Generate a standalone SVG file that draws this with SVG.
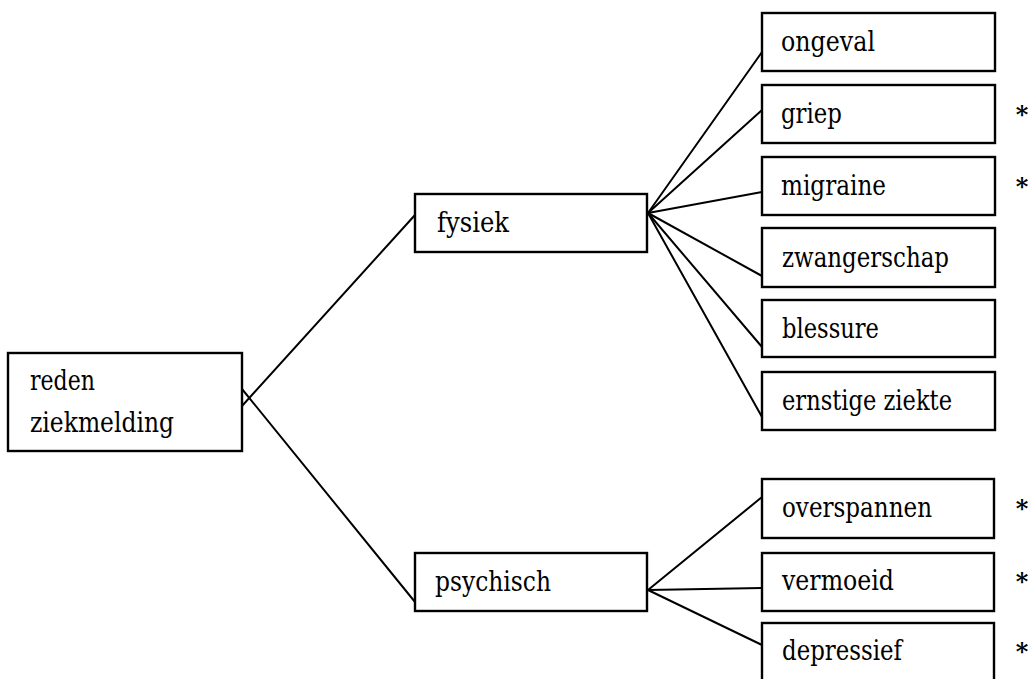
<svg xmlns="http://www.w3.org/2000/svg" width="1031" height="679" viewBox="0 0 1031 679">
  <style>
    .box { fill: #fff; stroke: #000; stroke-width: 2.4; }
    text { font-family: 'DejaVu Serif', 'Liberation Serif', serif; font-size: 27px; fill: #000; }
    .star { text-anchor: middle; font-weight: bold; font-size: 24px; }
    .conn line { stroke: #000; stroke-width: 2; stroke-linecap: round; }
  </style>
  <rect width="1031" height="679" fill="#fff"/>

  <!-- connectors -->
  <g id="connectors" class="conn">
    <line x1="242" y1="406" x2="415" y2="215"/>
    <line x1="242" y1="389" x2="415" y2="602"/>
    <line x1="648" y1="213" x2="762" y2="52"/>
    <line x1="648" y1="213" x2="762" y2="110"/>
    <line x1="648" y1="213" x2="762" y2="192"/>
    <line x1="648" y1="213" x2="762" y2="276"/>
    <line x1="648" y1="213" x2="762" y2="347"/>
    <line x1="648" y1="213" x2="762" y2="417"/>
    <line x1="648" y1="590" x2="762" y2="497"/>
    <line x1="648" y1="590" x2="762" y2="588"/>
    <line x1="648" y1="590" x2="762" y2="645"/>
  </g>

  <g id="root">
    <rect class="box" x="8" y="353" width="234" height="98"/>
    <text x="30" y="390" textLength="65" lengthAdjust="spacingAndGlyphs">reden</text>
    <text x="30" y="432" textLength="144" lengthAdjust="spacingAndGlyphs">ziekmelding</text>
  </g>

  <g id="fysiek">
    <rect class="box" x="415" y="194" width="232" height="58"/>
    <text x="437" y="232" textLength="72" lengthAdjust="spacingAndGlyphs">fysiek</text>
  </g>

  <g id="psychisch">
    <rect class="box" x="415" y="553" width="232" height="58"/>
    <text x="435" y="591" textLength="116" lengthAdjust="spacingAndGlyphs">psychisch</text>
  </g>

  <g id="ongeval">
    <rect class="box" x="762" y="13" width="233" height="58"/>
    <text x="781" y="51" textLength="94" lengthAdjust="spacingAndGlyphs">ongeval</text>
  </g>

  <g id="griep">
    <rect class="box" x="762" y="85" width="233" height="58"/>
    <text x="781" y="123" textLength="61" lengthAdjust="spacingAndGlyphs">griep</text>
    <text class="star" x="1022" y="123">*</text>
  </g>

  <g id="migraine">
    <rect class="box" x="762" y="157" width="233" height="58"/>
    <text x="781" y="195" textLength="105" lengthAdjust="spacingAndGlyphs">migraine</text>
    <text class="star" x="1022" y="195">*</text>
  </g>

  <g id="zwangerschap">
    <rect class="box" x="762" y="228" width="233" height="59"/>
    <text x="782" y="267" textLength="167" lengthAdjust="spacingAndGlyphs">zwangerschap</text>
  </g>

  <g id="blessure">
    <rect class="box" x="762" y="300" width="233" height="57"/>
    <text x="782" y="338" textLength="97" lengthAdjust="spacingAndGlyphs">blessure</text>
  </g>

  <g id="ernstige-ziekte">
    <rect class="box" x="762" y="372" width="233" height="58"/>
    <text x="782" y="410" textLength="170" lengthAdjust="spacingAndGlyphs">ernstige ziekte</text>
  </g>

  <g id="overspannen">
    <rect class="box" x="762" y="479" width="232" height="59"/>
    <text x="782" y="517" textLength="150" lengthAdjust="spacingAndGlyphs">overspannen</text>
    <text class="star" x="1022" y="517">*</text>
  </g>

  <g id="vermoeid">
    <rect class="box" x="762" y="553" width="232" height="58"/>
    <text x="782" y="590" textLength="112" lengthAdjust="spacingAndGlyphs">vermoeid</text>
    <text class="star" x="1022" y="590">*</text>
  </g>

  <g id="depressief">
    <rect class="box" x="762" y="623" width="232" height="70"/>
    <text x="782" y="660" textLength="120" lengthAdjust="spacingAndGlyphs">depressief</text>
    <text class="star" x="1022" y="660">*</text>
  </g>
</svg>
